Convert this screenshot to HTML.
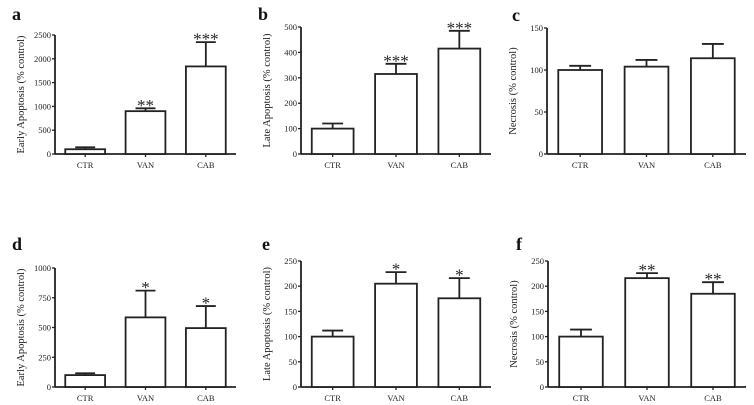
<!DOCTYPE html>
<html><head><meta charset="utf-8"><style>
html,body{margin:0;padding:0;background:#fff;}
svg{display:block;font-family:"Liberation Serif",serif;}
</style></head><body>
<svg id="fig" width="754" height="405" viewBox="0 0 754 405" xmlns="http://www.w3.org/2000/svg"></svg>
<script>
const categories = ["CTR","VAN","CAB"];
const valsA = [100, 900, 1840], errA = [40, 60, 510], sigA = ["", "**", "***"], ticksA = [0,500,1000,1500,2000,2500];
const valsB = [100, 315, 415], errB = [20, 40, 70], sigB = ["", "***", "***"], ticksB = [0,100,200,300,400,500];
const valsC = [100, 104, 114], errC = [5, 8, 17], sigC = ["", "", ""], ticksC = [0,50,100,150];
const valsD = [100, 585, 495], errD = [15, 225, 185], sigD = ["", "*", "*"], ticksD = [0,250,500,750,1000];
const valsE = [100, 205, 176], errE = [12, 23, 40], sigE = ["", "*", "*"], ticksE = [0,50,100,150,200,250];
const valsF = [100, 216, 185], errF = [14, 10, 23], sigF = ["", "**", "**"], ticksF = [0,50,100,150,200,250];

const svg = document.getElementById('fig');
const NS = "http://www.w3.org/2000/svg";
function mk(tag, attrs, parent){
  const e = document.createElementNS(NS, tag);
  for (const k in attrs) e.setAttribute(k, attrs[k]);
  (parent||svg).appendChild(e); return e;
}
const panels = [
  {id:"a", ax:55, top:35, bot:154, xend:236, vals:valsA, err:errA, sig:sigA, ticks:ticksA, title:"Early Apoptosis (% control)", lx:12, ly:20},
  {id:"b", ax:301, top:27, bot:154, xend:491, vals:valsB, err:errB, sig:sigB, ticks:ticksB, title:"Late Apoptosis (% control)", lx:258, ly:20},
  {id:"c", ax:547, top:28, bot:154, xend:746, vals:valsC, err:errC, sig:sigC, ticks:ticksC, title:"Necrosis (% control)", lx:512, ly:21},
  {id:"d", ax:55, top:268, bot:387, xend:236, vals:valsD, err:errD, sig:sigD, ticks:ticksD, title:"Early Apoptosis (% control)", lx:12, ly:250},
  {id:"e", ax:301, top:261, bot:387, xend:491, vals:valsE, err:errE, sig:sigE, ticks:ticksE, title:"Late Apoptosis (% control)", lx:262, ly:250},
  {id:"f", ax:548, top:261, bot:387, xend:746, vals:valsF, err:errF, sig:sigF, ticks:ticksF, title:"Necrosis (% control)", lx:516, ly:250}
];
const SW = 1.8;
panels.forEach(p=>{
  const g = mk('g', {});
  
  
  const max = p.ticks[p.ticks.length-1];
  const y = v => p.bot - (v/max)*(p.bot-p.top);
  const w = p.xend - p.ax;
  const slot = w/3;
  const bw = slot*0.66;
  const xc = i => p.ax + slot*(i+0.5);
  const lab = mk('text', {x:p.lx, y:p.ly, 'font-size':18, 'font-weight':'bold', fill:'#111'}, g);
  lab.textContent = p.id;
  
  
  const yax = mk('line', {x1:p.ax, y1:p.top, x2:p.ax, y2:p.bot, stroke:'#222', 'stroke-width':SW}, g);
  
  
  const xax = mk('line', {x1:p.ax, y1:p.bot, x2:p.xend, y2:p.bot, stroke:'#222', 'stroke-width':SW}, g);
  
  
  p.ticks.forEach(t=>{
    mk('line', {x1:p.ax-3, y1:y(t), x2:p.ax, y2:y(t), stroke:'#222', 'stroke-width':1.3}, g);
    const tl = mk('text', {x:p.ax-4, y:y(t)+3, 'font-size':8.5, 'text-anchor':'end', fill:'#222'}, g);
    tl.textContent = t;
    
    
  });
  const ty = (p.top+p.bot)/2;
  const tt = mk('text', {x:p.ax-31, y:ty, 'font-size':10.5, 'text-anchor':'middle', fill:'#222', transform:`rotate(-90 ${p.ax-31} ${ty})`}, g);
  tt.textContent = p.title;
  
  
  categories.forEach((c,i)=>{
    const v = p.vals[i], e = p.err[i], cx = xc(i);
    const ey = y(v+e);
    mk('line', {x1:cx, y1:y(v), x2:cx, y2:ey, stroke:'#222', 'stroke-width':SW}, g);
    mk('line', {x1:cx-bw*0.25, y1:ey, x2:cx+bw*0.25, y2:ey, stroke:'#222', 'stroke-width':SW}, g);
    const r = mk('rect', {x:cx-bw/2, y:y(v), width:bw, height:p.bot-y(v), fill:'#fff', stroke:'#222', 'stroke-width':SW}, g);
    
    
    mk('line', {x1:cx, y1:p.bot, x2:cx, y2:p.bot+3, stroke:'#222', 'stroke-width':1.3}, g);
    const xl = mk('text', {x:cx, y:p.bot+14, 'font-size':8.5, 'text-anchor':'middle', fill:'#222'}, g);
    xl.textContent = c;
    
    
    if (p.sig[i]) {
      const s = mk('text', {x:cx, y:ey+2.5, 'font-size':17, 'text-anchor':'middle', fill:'#222'}, g);
      s.textContent = p.sig[i];
      
      
    }
  });
});
</script>
</body></html>
